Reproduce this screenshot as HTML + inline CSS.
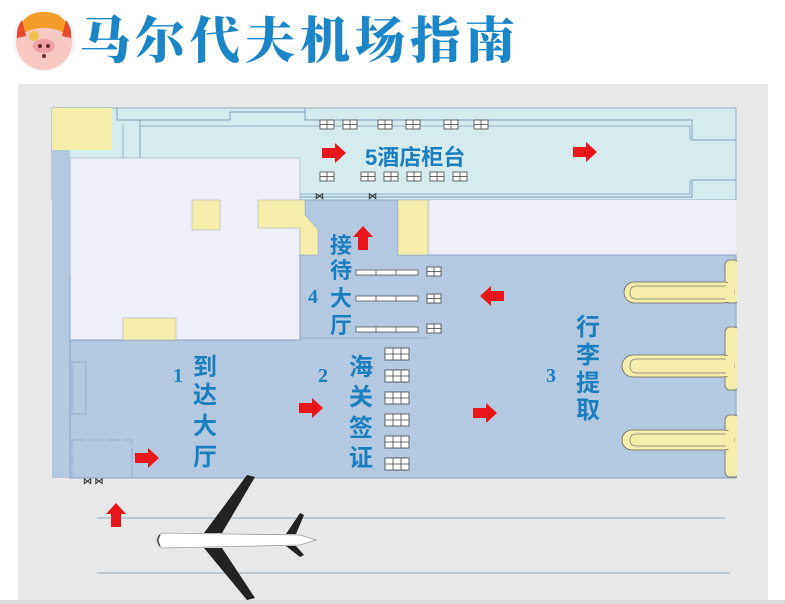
<!DOCTYPE html>
<html><head><meta charset="utf-8"><style>
html,body{margin:0;padding:0;background:#fff;}
svg{display:block;}
text{font-family:"Liberation Sans","Noto Sans CJK SC",sans-serif;font-weight:bold;}
</style></head><body>
<svg width="785" height="604" viewBox="0 0 785 604" xmlns="http://www.w3.org/2000/svg">
<defs>
<g id="ar"><polygon points="0,-5 13,-5 13,-10 24,0 13,10 13,5 0,5" fill="#e8161b"/></g>
<g id="bx"><rect x="0" y="0" width="14" height="9" fill="#fff" stroke="#444" stroke-width="0.8"/><line x1="7" y1="0" x2="7" y2="9" stroke="#444" stroke-width="0.8"/><line x1="0" y1="4.5" x2="14" y2="4.5" stroke="#444" stroke-width="0.8"/></g>
<g id="cb"><rect x="0" y="0" width="24" height="12" fill="#fff" stroke="#444" stroke-width="0.8"/><line x1="8" y1="0" x2="8" y2="12" stroke="#444" stroke-width="0.8"/><line x1="16" y1="0" x2="16" y2="12" stroke="#444" stroke-width="0.8"/><line x1="0" y1="6" x2="24" y2="6" stroke="#444" stroke-width="0.8"/></g>
<g id="desk"><rect x="0" y="0" width="62" height="5" fill="#fff" stroke="#555" stroke-width="0.8"/><line x1="20" y1="0" x2="20" y2="5" stroke="#555" stroke-width="0.8"/><line x1="40" y1="0" x2="40" y2="5" stroke="#555" stroke-width="0.8"/></g>
</defs>
<!-- title -->
<circle cx="44" cy="40" r="31" fill="#f3f3f3"/>
<circle cx="44" cy="42" r="28" fill="#f8c9c2"/>
<path d="M17,38 Q20,12 44,12 Q68,12 71,38 Q60,28 44,28 Q28,28 17,38Z" fill="#f39c2a"/>
<path d="M17,38 Q16,28 22,20 L26,36Z" fill="#e74b2a"/><path d="M71,38 Q72,28 66,20 L62,36Z" fill="#e74b2a"/>
<circle cx="34" cy="36" r="5" fill="#f2c04a"/>
<ellipse cx="44" cy="46" rx="11" ry="7" fill="#f0a0a4"/>
<circle cx="40" cy="46" r="2" fill="#6a2a2a"/><circle cx="48" cy="46" r="2" fill="#6a2a2a"/>
<circle cx="44" cy="56" r="2" fill="#6a2a2a"/>
<text x="80" y="58" font-size="50" fill="#1a86c8" style="font-family:'Noto Serif CJK SC','Liberation Serif',serif;font-weight:900" letter-spacing="5">马尔代夫机场指南</text>
<!-- gray panel -->
<rect x="18" y="84" width="750" height="516" fill="#e8e8e8"/>
<rect x="0" y="600" width="785" height="4" fill="#ddd"/>
<!-- hotel area -->
<rect x="52" y="108" width="684" height="92" fill="#d5ebee" stroke="#8fb0c8" stroke-width="1"/>
<path d="M117,108 L117,120 L230,120 L230,112 L305,112 M305,108 L305,120 L692,120 L692,140 L736,140 M736,180 L692,180 L692,197 L140,197 L140,120" fill="none" stroke="#7a9cbc" stroke-width="0.9"/>
<path d="M123,124 L123,186 L140,186 M140,126 L690,126 L690,140 M690,180 L690,194 L140,194" fill="none" stroke="#7a9cbc" stroke-width="0.7"/>
<rect x="52" y="108" width="60" height="42" fill="#f5eeab"/>
<!-- left strip -->
<rect x="52" y="150" width="18" height="328" fill="#b4c8e0"/>
<!-- lavender -->
<rect x="70" y="158" width="230" height="182" fill="#eeeef8" stroke="#9ab" stroke-width="0.6"/>
<rect x="430" y="200" width="306" height="55" fill="#eeeef8"/>
<!-- main hall -->
<path d="M305,200 L398,200 L398,255 L736,255 L736,478 L70,478 L70,340 L300,340 L300,255 L305,255Z" fill="#b4c8e0" stroke="#8aa4c4" stroke-width="1"/>
<line x1="70" y1="275" x2="70" y2="478" stroke="#8aa4c4" stroke-width="0.8"/>
<line x1="300" y1="338" x2="430" y2="338" stroke="#8aa4c4" stroke-width="0.8"/>
<rect x="72" y="362" width="14" height="52" fill="none" stroke="#8aa4c4" stroke-width="0.8"/>
<rect x="72" y="440" width="60" height="38" fill="none" stroke="#8aa4c4" stroke-width="0.8" stroke-dasharray="14,3"/>
<!-- yellow blocks -->
<rect x="192" y="200" width="28" height="30" fill="#f5eeab" stroke="#9ab" stroke-width="0.5"/>
<polygon points="258,200 305,200 305,215 318,230 318,255 300,255 300,228 258,228" fill="#f5eeab" stroke="#9ab" stroke-width="0.5"/>
<rect x="398" y="200" width="30" height="55" fill="#f5eeab" stroke="#9ab" stroke-width="0.5"/>
<rect x="123" y="318" width="53" height="22" fill="#f5eeab" stroke="#9ab" stroke-width="0.5"/>
<!-- carousels -->
<g fill="#f5eeab" stroke="#666" stroke-width="0.8">
<rect x="725" y="260" width="14" height="43" rx="5"/>
<rect x="624" y="282" width="110" height="21" rx="10.5"/>
<rect x="725" y="327" width="14" height="63" rx="5"/>
<rect x="622" y="355" width="112" height="22" rx="11"/>
<rect x="725" y="415" width="14" height="62" rx="5"/>
<rect x="622" y="430" width="112" height="20" rx="10"/>
</g>
<g fill="#f5eeab">
<rect x="720" y="283" width="14" height="19"/><rect x="720" y="356" width="14" height="20"/><rect x="720" y="431" width="14" height="18"/>
</g>
<g fill="none" stroke="#777" stroke-width="0.7">
<path d="M726,286 L637,286 Q630,286 630,292.5 Q630,299 637,299 L726,299"/>
<path d="M726,359 L637,359 Q630,359 630,366 Q630,373 637,373 L726,373"/>
<path d="M726,434 L637,434 Q630,434 630,440 Q630,446 637,446 L726,446"/>
</g>
<rect x="737" y="255" width="31" height="225" fill="#e8e8e8"/>
<!-- counters -->
<use href="#bx" x="320" y="120"/><use href="#bx" x="343" y="120"/><use href="#bx" x="378" y="120"/><use href="#bx" x="406" y="120"/><use href="#bx" x="444" y="120"/><use href="#bx" x="474" y="120"/>
<use href="#bx" x="320" y="172"/><use href="#bx" x="361" y="172"/><use href="#bx" x="384" y="172"/><use href="#bx" x="407" y="172"/><use href="#bx" x="430" y="172"/><use href="#bx" x="453" y="172"/>
<text x="315" y="199" font-size="9" fill="#444" font-weight="normal">⋈</text><text x="368" y="199" font-size="9" fill="#444" font-weight="normal">⋈</text>
<use href="#desk" x="356" y="270"/><use href="#desk" x="356" y="296"/><use href="#desk" x="356" y="327"/>
<use href="#bx" x="427" y="267"/><use href="#bx" x="427" y="294"/><use href="#bx" x="427" y="324"/>
<use href="#cb" x="385" y="348"/><use href="#cb" x="385" y="370"/><use href="#cb" x="385" y="392"/><use href="#cb" x="385" y="414"/><use href="#cb" x="385" y="436"/><use href="#cb" x="385" y="458"/>
<text x="83" y="484" font-size="9" fill="#444" font-weight="normal">⋈ ⋈</text>
<!-- runway -->
<line x1="97" y1="518" x2="725" y2="518" stroke="#9bb4c8" stroke-width="1.2"/>
<line x1="97" y1="573" x2="730" y2="573" stroke="#9bb4c8" stroke-width="1.2"/>
<!-- labels -->
<g fill="#1a7fc0">
<text x="365" y="165" font-size="22">5酒店柜台</text>
<text x="330" y="253" font-size="22">接</text><text x="330" y="278" font-size="22">待</text><text x="330" y="306" font-size="22">大</text><text x="330" y="333" font-size="22">厅</text>
<text x="308" y="303" font-size="20" style="font-family:'Liberation Serif',serif">4</text>
<text x="173" y="382" font-size="20" style="font-family:'Liberation Serif',serif">1</text>
<text x="193" y="375" font-size="24">到</text><text x="193" y="403" font-size="24">达</text><text x="193" y="434" font-size="24">大</text><text x="193" y="465" font-size="24">厅</text>
<text x="318" y="382" font-size="20" style="font-family:'Liberation Serif',serif">2</text>
<text x="349" y="375" font-size="24">海</text><text x="349" y="405" font-size="24">关</text><text x="349" y="436" font-size="24">签</text><text x="349" y="466" font-size="24">证</text>
<text x="546" y="382" font-size="20" style="font-family:'Liberation Serif',serif">3</text>
<text x="576" y="335" font-size="24">行</text><text x="576" y="363" font-size="24">李</text><text x="576" y="391" font-size="24">提</text><text x="576" y="418" font-size="24">取</text>
</g>
<!-- arrows -->
<use href="#ar" x="322" y="153"/><use href="#ar" x="573" y="152"/>
<use href="#ar" transform="translate(363,250) rotate(-90)"/>
<use href="#ar" transform="translate(504,296) rotate(180)"/>
<use href="#ar" x="299" y="408"/><use href="#ar" x="473" y="413"/><use href="#ar" x="135" y="458"/>
<use href="#ar" transform="translate(116,527) rotate(-90)"/>
<!-- plane -->
<g>
<polygon points="204,533 247,475 255,477 222,533" fill="#222"/>
<polygon points="204,548 247,600 255,598 222,548" fill="#222"/>
<polygon points="286,534 300,513 304,515 296,534" fill="#222"/>
<polygon points="286,546 300,557 304,555 296,546" fill="#222"/>
<path d="M162,533 L300,535 L316,540 L300,545 L162,548 Q152,540 162,533Z" fill="#fff" stroke="#999" stroke-width="0.8"/>
<path d="M160,535 Q156,540 160,546" fill="none" stroke="#333" stroke-width="1.2"/>
</g>
</svg>
</body></html>
